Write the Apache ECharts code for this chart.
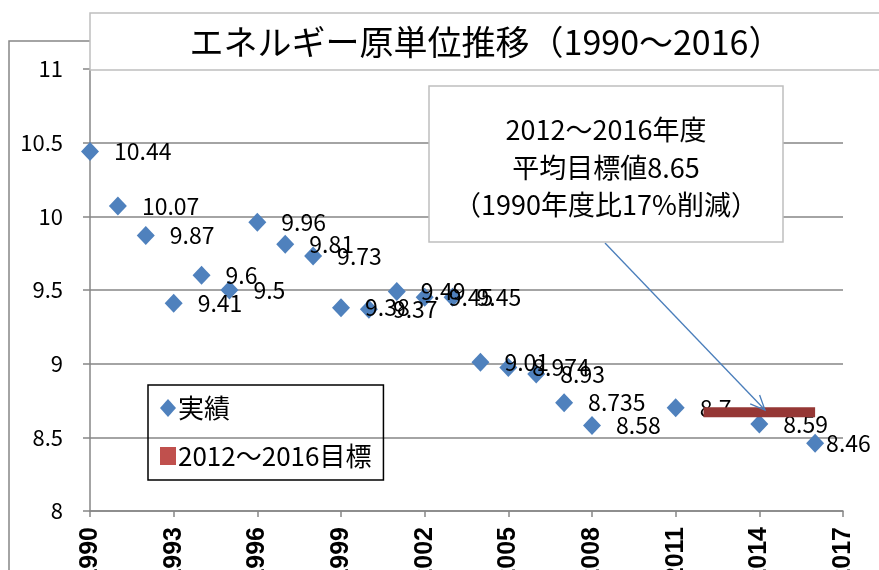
<!DOCTYPE html>
<html><head><meta charset="utf-8">
<script src="https://cdn.jsdelivr.net/npm/echarts@6/dist/echarts.min.js"></script>
<style>html,body{margin:0;padding:0;background:#fff}#c{width:879px;height:570px}</style>
</head><body><div id="c"></div>
<script>
const years = [1990,1991,1992,1993,1994,1995,1996,1997,1998,1999,2000,2001,2002,2003,2004,2005,2006,2007,2008,2011,2014,2016];
const values = [10.44,10.07,9.87,9.41,9.6,9.5,9.96,9.81,9.73,9.38,9.37,9.49,9.45,9.45,9.01,8.974,8.93,8.735,8.58,8.7,8.59,8.46];
const targetYears = [2012, 2016];
const targetValues = [8.67, 8.67];
const titleText = 'エネルギー原単位推移（1990～2016）';
const calloutLines = ['2012～2016年度', '平均目標値8.65', '（1990年度比17%削減）'];
const seriesNames = ['実績', '2012～2016目標'];

const FONT = '"Noto Sans CJK JP", "Noto Sans", sans-serif';
const chart = echarts.init(document.getElementById('c'), null, {renderer: 'canvas'});

// arrow geometry (annotation)
const ax0 = 605, ay0 = 243, ax1 = 765, ay1 = 410;
const ang = Math.atan2(ay1 - ay0, ax1 - ax0);
const hl = 16, ha = 0.42;
const h1 = [ax1 - hl * Math.cos(ang - ha), ay1 - hl * Math.sin(ang - ha)];
const h2 = [ax1 - hl * Math.cos(ang + ha), ay1 - hl * Math.sin(ang + ha)];

const lastIdx = years.length - 1;
const scatterData = years.map((y, i) => {
  const item = {value: [y, values[i]]};
  if (i === lastIdx) item.label = {distance: 2};
  return item;
});

chart.setOption({
  animation: false,
  backgroundColor: '#fff',
  textStyle: {fontFamily: FONT},
  grid: {left: 90, right: 36, top: 69, bottom: 59, containLabel: false, outerBoundsMode: 'none'},
  xAxis: {
    type: 'value', min: 1990, max: 2017, interval: 3,
    axisLine: {lineStyle: {color: '#868686', width: 1.5}},
    axisTick: {show: true, length: 6, lineStyle: {color: '#868686', width: 1.5}},
    splitLine: {show: false},
    axisLabel: {rotate: 90, margin: 16, fontSize: 25, fontWeight: 'bold', color: '#000',
      fontFamily: '"Liberation Sans", Arial, sans-serif',
      formatter: v => String(v)}
  },
  yAxis: {
    type: 'value', min: 8, max: 11, interval: 0.5,
    axisLine: {show: true, lineStyle: {color: '#868686', width: 1.5}},
    axisTick: {show: true, length: 7, lineStyle: {color: '#868686', width: 1.5}},
    splitLine: {show: true, lineStyle: {color: '#868686', width: 1.5}},
    axisLabel: {margin: 27, fontSize: 22, color: '#000', fontFamily: FONT}
  },
  legend: {
    orient: 'vertical', left: 148, top: 385,
    borderColor: '#000', borderWidth: 1.5, padding: [10, 12, 11, 12],
    itemGap: 22, itemWidth: 16, itemHeight: 18,
    textStyle: {fontSize: 26, color: '#000', fontFamily: FONT, padding: [0, 0, 0, -3]},
    data: [
      {name: seriesNames[0], icon: 'diamond'},
      {name: seriesNames[1], icon: 'rect', itemStyle: {color: '#C0504D'}}
    ]
  },
  series: [
    {
      name: seriesNames[0], type: 'scatter',
      symbol: 'diamond', symbolSize: [18, 19],
      itemStyle: {color: '#4F81BD', opacity: 1},
      data: scatterData,
      label: {show: true, position: 'right', distance: 15, fontSize: 23, color: '#000',
        fontFamily: FONT, formatter: p => String(p.value[1])},
      z: 3
    },
    {
      name: seriesNames[1], type: 'line', symbol: 'none',
      lineStyle: {color: '#953735', width: 10, cap: 'butt'},
      itemStyle: {color: '#953735'},
      data: targetYears.map((y, i) => [y, targetValues[i]]),
      z: 4
    }
  ],
  graphic: [
    {type: 'polyline', z: 0, shape: {points: [[9, 570], [9, 41], [92, 41]]},
      style: {stroke: '#868686', lineWidth: 1.5, fill: null}},
    {type: 'rect', z: 100, shape: {x: 90, y: 13, width: 820, height: 57},
      style: {fill: '#fff', stroke: '#BFBFBF', lineWidth: 1.5}},
    {type: 'text', z: 101, x: 486, y: 42,
      style: {text: titleText, font: '34px ' + FONT, fill: '#000', textAlign: 'center', textVerticalAlign: 'middle'}},
    {type: 'line', z: 99, shape: {x1: ax0, y1: ay0, x2: ax1, y2: ay1},
      style: {stroke: '#4A7EBB', lineWidth: 1.3}},
    {type: 'polyline', z: 99, shape: {points: [h1, [ax1, ay1], h2]},
      style: {stroke: '#4A7EBB', lineWidth: 1.3, fill: null}},
    {type: 'rect', z: 100, shape: {x: 429, y: 86, width: 354, height: 156},
      style: {fill: '#fff', stroke: '#BFBFBF', lineWidth: 1.5}},
    {type: 'text', z: 101, x: 606, y: 130,
      style: {text: calloutLines[0], font: '27px ' + FONT, fill: '#000', textAlign: 'center', textVerticalAlign: 'middle'}},
    {type: 'text', z: 101, x: 606, y: 168,
      style: {text: calloutLines[1], font: '27px ' + FONT, fill: '#000', textAlign: 'center', textVerticalAlign: 'middle'}},
    {type: 'text', z: 101, x: 606, y: 205,
      style: {text: calloutLines[2], font: '27px ' + FONT, fill: '#000', textAlign: 'center', textVerticalAlign: 'middle'}}
  ]
});
</script></body></html>
